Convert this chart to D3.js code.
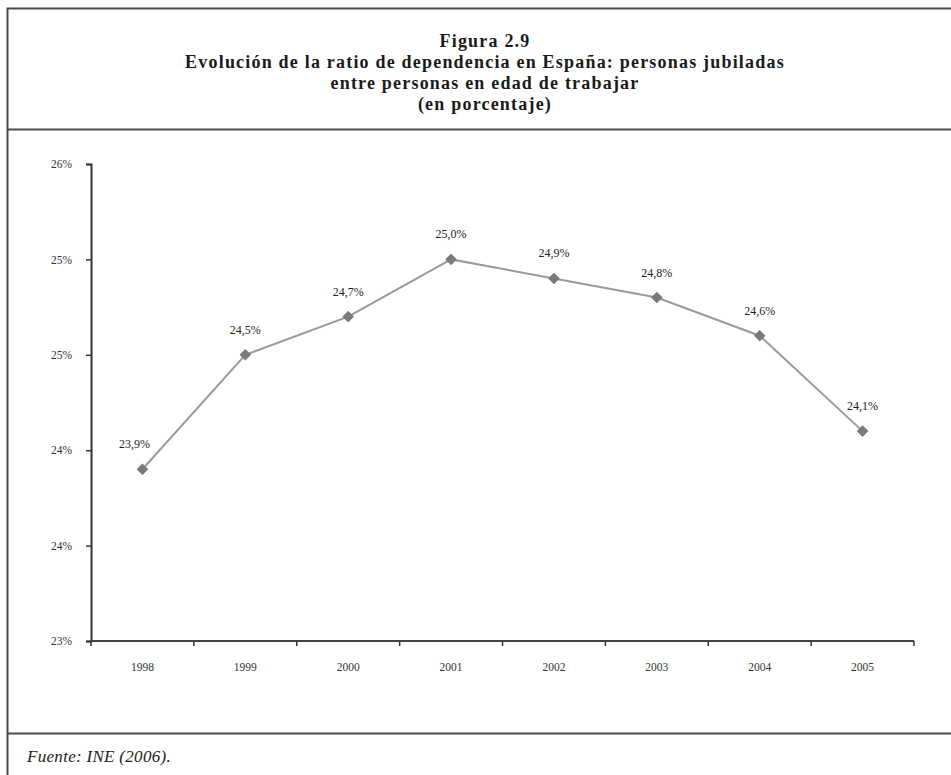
<!DOCTYPE html>
<html>
<head>
<meta charset="utf-8">
<script src="https://cdn.jsdelivr.net/npm/d3@7"></script>
<style>
  html, body { margin: 0; padding: 0; background: #fff; }
  svg { display: block; }
</style>
</head>
<body>
<svg id="chart" width="951" height="775"></svg>
<script>
// Ratio de dependencia (jubilados / población en edad de trabajar), en %
const years = ["1998", "1999", "2000", "2001", "2002", "2003", "2004", "2005"];
const ratio = [23.9, 24.5, 24.7, 25.0, 24.9, 24.8, 24.6, 24.1];
const ratioLabels = ["23,9%", "24,5%", "24,7%", "25,0%", "24,9%", "24,8%", "24,6%", "24,1%"];
const yTicks = [23.0, 23.5, 24.0, 24.5, 25.0, 25.5];
const yTickLabels = ["23%", "24%", "24%", "25%", "25%", "26%"];

const titleLines = [
  "Figura 2.9",
  "Evolución de la ratio de dependencia en España: personas jubiladas",
  "entre personas en edad de trabajar",
  "(en porcentaje)"
];
const sourceNote = "Fuente: INE (2006).";

const svg = d3.select("#chart");
const serif = "'Liberation Serif', 'DejaVu Serif', serif";

// Outer frame and separators
const frame = svg.append("g").attr("stroke", "#4a4a4a").attr("stroke-width", 2).attr("fill", "none");
frame.append("path").attr("d", "M7.5,780 V8.5 H960");
frame.append("line").attr("x1", 7).attr("x2", 960).attr("y1", 129.5).attr("y2", 129.5);
frame.append("line").attr("x1", 7).attr("x2", 960).attr("y1", 733.5).attr("y2", 733.5);

// Title block
const titleSize = 18;
const title = svg.append("g")
  .attr("font-family", serif)
  .attr("font-weight", "bold")
  .attr("font-size", titleSize)
  .attr("fill", "#1a1a1a")
  .attr("text-anchor", "middle");
const titleTexts = title.selectAll("text").data(titleLines).join("text")
  .attr("x", 485)
  .attr("y", (d, i) => 47 + i * 21)
  .text(d => d);
// open up the tracking a little so the longest line spans the title width
const longest = titleTexts.filter((d, i) => i === 1).node();
const w = longest.getComputedTextLength();
const n = titleLines[1].length;
const spacing = Math.max(0, Math.min(1.2, (644 - w) / (n - 1)));
titleTexts.attr("letter-spacing", spacing);

// Plot area
const margin = { left: 91, right: 914, top: 164, bottom: 641 };
const x = d3.scaleBand().domain(years).range([margin.left, margin.right]).padding(0);
const y = d3.scaleLinear().domain([23, 25.5]).range([margin.bottom, margin.top]);

// Y axis
const yAxis = d3.axisLeft(y)
  .tickValues(yTicks)
  .tickSize(5)
  .tickFormat((d, i) => yTickLabels[i]);
const gy = svg.append("g").attr("transform", `translate(${margin.left},0)`).call(yAxis);
gy.select(".domain").attr("stroke", "#333").attr("stroke-width", 2);
gy.selectAll(".tick line").attr("stroke", "#333").attr("stroke-width", 1.5);
gy.selectAll(".tick text")
  .attr("x", -19)
  .attr("font-family", serif)
  .attr("font-size", 11.5)
  .attr("fill", "#333");

// X axis: ticks on category boundaries
const gx = svg.append("g").attr("transform", `translate(0,${margin.bottom})`);
gx.append("line")
  .attr("x1", margin.left - 1).attr("x2", margin.right)
  .attr("stroke", "#444").attr("stroke-width", 2);
const bounds = years.map(d => x(d)).concat([x(years[years.length - 1]) + x.bandwidth()]);
gx.selectAll("line.tk").data(bounds).join("line")
  .attr("class", "tk")
  .attr("x1", d => d).attr("x2", d => d)
  .attr("y1", 0).attr("y2", 5)
  .attr("stroke", "#333").attr("stroke-width", 1.5);
gx.selectAll("text").data(years).join("text")
  .attr("x", d => x(d) + x.bandwidth() / 2)
  .attr("y", 30)
  .attr("text-anchor", "middle")
  .attr("font-family", serif)
  .attr("font-size", 11.5)
  .attr("fill", "#333")
  .text(d => d);

// Series line
const cx = (d, i) => x(years[i]) + x.bandwidth() / 2;
const line = d3.line().x((d, i) => cx(d, i)).y(d => y(d));
svg.append("path")
  .datum(ratio)
  .attr("d", line)
  .attr("fill", "none")
  .attr("stroke", "#9a9a9a")
  .attr("stroke-width", 2);

// Diamond markers
const diamond = d3.symbol().type(d3.symbolDiamond2).size(72);
svg.append("g").selectAll("path").data(ratio).join("path")
  .attr("d", diamond)
  .attr("transform", (d, i) => `translate(${cx(d, i)},${y(d)})`)
  .attr("fill", "#7a7a7a")
  .attr("stroke", "#6e6e6e")
  .attr("stroke-width", 0.8);

// Value labels
svg.append("g").selectAll("text").data(ratio).join("text")
  .attr("x", (d, i) => cx(d, i) - (i === 0 ? 8 : 0))
  .attr("y", d => y(d) - 21)
  .attr("text-anchor", "middle")
  .attr("font-family", serif)
  .attr("font-size", 12)
  .attr("fill", "#222")
  .text((d, i) => ratioLabels[i]);

// Source note
svg.append("text")
  .attr("x", 27)
  .attr("y", 762)
  .attr("font-family", serif)
  .attr("font-style", "italic")
  .attr("font-size", 17)
  .attr("letter-spacing", 0.3)
  .attr("fill", "#222")
  .text(sourceNote);
</script>
</body>
</html>
